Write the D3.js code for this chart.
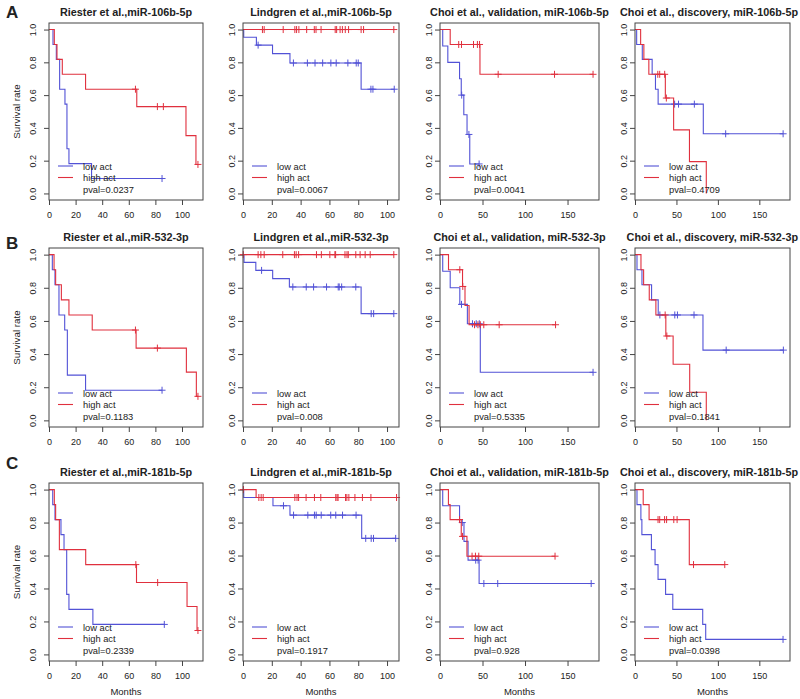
<!DOCTYPE html>
<html><head><meta charset="utf-8">
<script src="https://cdn.jsdelivr.net/npm/d3@7"></script>
<style>body{margin:0;background:#fff} text{font-family:"Liberation Sans",Arial,sans-serif;fill:#222}</style>
</head><body><svg id="c" width="800" height="699"></svg>
<script>
// ---------- DATA ----------
const titles = [
  "Riester et al.,miR-106b-5p","Lindgren et al.,miR-106b-5p","Choi et al., validation, miR-106b-5p","Choi et al., discovery, miR-106b-5p",
  "Riester et al.,miR-532-3p","Lindgren et al.,miR-532-3p","Choi et al., validation, miR-532-3p","Choi et al., discovery, miR-532-3p",
  "Riester et al.,miR-181b-5p","Lindgren et al.,miR-181b-5p","Choi et al., validation, miR-181b-5p","Choi et al., discovery, miR-181b-5p"];
const pvals = ["0.0237","0.0067","0.0041","0.4709","0.1183","0.008","0.5335","0.1841","0.2339","0.1917","0.928","0.0398"];
const rowLetters = ["A","B","C"];
const legendLabels = ["low act","high act"];
const yTicks = [0,0.2,0.4,0.6,0.8,1.0];
const xTicksShort = [0,20,40,60,80,100];
const xTicksLong = [0,50,100,150];

// Kaplan-Meier steps [time, survival] and censor times
const A1_low = [[0,1],[3,0.909],[5.5,0.818],[8,0.636],[12,0.545],[13.5,0.273],[15,0.182],[32,0.091]];
const A1_lowCens = [85];
const A1_high = [[0,1],[4,0.909],[6,0.818],[10,0.727],[27.5,0.636],[66,0.53],[103,0.353],[110.5,0.177]];
const A1_highCens = [65,81.5,86,112];

const A2_low = [[0,1],[0.5,0.953],[9.3,0.905],[20.5,0.853],[32.6,0.796],[82,0.636]];
const A2_lowCens = [10.5,35,44.7,50,55.3,61,64.7,72.8,78.6,80,88.8,90.2,105];
const A2_high = [[0,1]];
const A2_highCens = [13.5,14.7,27.9,36,37.2,38.8,44.2,49.5,50.7,54.2,64,65,67.4,69,71,73.3,82,83.7,104.7];

const A3_low = [[0,1],[3.2,0.9],[9.2,0.8],[23,0.7],[25,0.6],[28,0.48],[31.8,0.36],[35,0.18]];
const A3_lowCens = [25.5,34,46];
const A3_high = [[0,1],[12,0.909],[47,0.727]];
const A3_highCens = [22,25.3,39.4,44,46.5,68.4,134.7,180];

const A4_low = [[0,1],[2,0.909],[8.8,0.818],[20.7,0.727],[24.7,0.636],[27.9,0.545],[82.4,0.364]];
const A4_lowCens = [47.8,52.5,71.6,109.4,178.7];
const A4_high = [[0,1],[6.8,0.909],[10.7,0.818],[16.7,0.727],[36.6,0.582],[46.6,0.388],[65.7,0.194],[86,0]];
const A4_highCens = [27.5,29.8,35.8,37.8];

const B1_low = [[0,1],[2.5,0.909],[4.5,0.818],[7.5,0.636],[11.8,0.545],[13.8,0.273],[27.5,0.182]];
const B1_lowCens = [85];
const B1_high = [[0,1],[3.8,0.909],[5,0.818],[9.3,0.727],[15,0.636],[32.5,0.545],[65.5,0.436],[103.3,0.291],[110.8,0.145]];
const B1_highCens = [65,81.5,112];

const B2_low = [[0,1],[0.7,0.953],[8.9,0.905],[20.6,0.855],[32.2,0.805],[82,0.644]];
const B2_lowCens = [12.9,34.6,43.9,49,58,66.1,66.8,68.5,78.3,89,90.7,104.7];
const B2_high = [[0,1]];
const B2_highCens = [0.2,10.5,12.4,14.7,27.6,35.7,36.9,38.6,51,54.4,60.3,63.8,64.3,70.8,72.2,73.1,78.3,81.3,84.8,88.3,104.7];

const B3_low = [[0,1],[3.2,0.9],[12,0.8],[23.3,0.7],[32.2,0.583],[47.4,0.29]];
const B3_lowCens = [25.3,38.2,42.6,46.2,180];
const B3_high = [[0,1],[10,0.909],[26.5,0.808],[29.4,0.693],[34.2,0.577]];
const B3_highCens = [23.3,26.8,40.6,44.6,47.4,51.5,69.6,135.9];

const B4_low = [[0,1],[2.4,0.909],[8.4,0.818],[20,0.727],[28,0.636],[82,0.424]];
const B4_lowCens = [30,48,51.2,71.2,110,179];
const B4_high = [[0,1],[7.2,0.909],[10.4,0.818],[17.2,0.727],[25.2,0.636],[37.2,0.509],[46,0.339],[66,0.17],[86,0]];
const B4_highCens = [36.4,38.4];

const C1_low = [[0,1],[2.8,0.909],[4.5,0.818],[9,0.727],[11.3,0.636],[13.3,0.364],[15,0.273],[33,0.182]];
const C1_lowCens = [86.7];
const C1_high = [[0,1],[4,0.909],[5,0.818],[7.8,0.636],[27.6,0.545],[65.8,0.436],[103.8,0.291],[111.3,0.145]];
const C1_highCens = [65.3,81.7,112];

const C2_low = [[0,1],[0.5,0.952],[20.8,0.902],[32.6,0.845],[82.4,0.704]];
const C2_lowCens = [28.1,35.1,45,49.6,50.8,54.3,60.9,64.4,69.1,78.5,85.2,89,90.6,106];
const C2_high = [[0,1],[9.1,0.952]];
const C2_highCens = [0.3,11,12.6,14,36,37.5,38.6,43.8,49.6,54,64.4,65.3,66,71.2,72.1,73.5,77.7,82.9,88.8,106.6];

const C3_low = [[0,1],[3.2,0.902],[23,0.8],[28.2,0.686],[33,0.572],[46,0.43]];
const C3_lowCens = [26.2,42,44.8,51.6,67.9,177.8];
const C3_high = [[0,1],[9.9,0.909],[11.9,0.818],[25,0.716],[31.7,0.596]];
const C3_highCens = [23,26.5,37.7,41.7,45.6,135.3];

const C4_low = [[0,1],[2.4,0.909],[7.1,0.818],[8.3,0.727],[19.8,0.636],[24.2,0.545],[27.8,0.455],[36.9,0.364],[45.6,0.273],[81.7,0.182],[85.3,0.091]];
const C4_lowCens = [178.6];
const C4_high = [[0,1],[9.9,0.909],[17,0.818],[65.5,0.545]];
const C4_highCens = [27.8,29.8,35.7,38.1,46.8,50.8,70.6,108.3];

const lowCurves = [[A1_low,A1_lowCens],[A2_low,A2_lowCens],[A3_low,A3_lowCens],[A4_low,A4_lowCens],
  [B1_low,B1_lowCens],[B2_low,B2_lowCens],[B3_low,B3_lowCens],[B4_low,B4_lowCens],
  [C1_low,C1_lowCens],[C2_low,C2_lowCens],[C3_low,C3_lowCens],[C4_low,C4_lowCens]];
const highCurves = [[A1_high,A1_highCens],[A2_high,A2_highCens],[A3_high,A3_highCens],[A4_high,A4_highCens],
  [B1_high,B1_highCens],[B2_high,B2_highCens],[B3_high,B3_highCens],[B4_high,B4_highCens],
  [C1_high,C1_highCens],[C2_high,C2_highCens],[C3_high,C3_highCens],[C4_high,C4_highCens]];

// ---------- LAYOUT ----------
const cols = [
  {l:49, r:203, xmax:115.8, ticks:xTicksShort, lab:-13},
  {l:243,r:399, xmax:108.3, ticks:xTicksShort, lab:-8},
  {l:440,r:599, xmax:187,   ticks:xTicksLong,  lab:-8},
  {l:635,r:790, xmax:187,   ticks:xTicksLong,  lab:-8}];
const rows = [{t:23,b:200,ly:12},{t:248,b:427,ly:243},{t:483,b:661,ly:463}];
const colors = ["#5252d6","#e0303e"];
const tickFont = 9;

const svg = d3.select("#c");
svg.append("rect").attr("width",800).attr("height",699).attr("fill","#fff");

rows.forEach((row,ri)=>{
  svg.append("text").attr("x",6).attr("y",row.ly+6).attr("font-size",17).attr("font-weight","bold").text(rowLetters[ri]);
});

function stepVal(steps,t){ let v=steps[0][1]; for(const s of steps){ if(s[0]<=t) v=s[1]; } return v; }

for(let i=0;i<12;i++){
  const ri=Math.floor(i/4), ci=i%4, row=rows[ri], col=cols[ci];
  const x=d3.scaleLinear().domain([0,col.xmax]).range([col.l,col.r]);
  const y=d3.scaleLinear().domain([-0.04,1.04]).range([row.b,row.t]);
  const g=svg.append("g");

  // title (kept inside the picture)
  const tt=g.append("text").attr("x",(col.l+col.r)/2).attr("y",row.t-7).attr("text-anchor","middle")
    .attr("font-size",10.8).attr("font-weight","bold").text(titles[i]);
  const w=tt.node().getComputedTextLength();
  const cx=Math.min((col.l+col.r)/2, 798-w/2);
  tt.attr("x",cx);

  // axes
  const ya=g.append("g").attr("transform",`translate(${col.l},0)`)
    .call(d3.axisLeft(y).tickValues(yTicks).tickFormat(d3.format(".1f")).tickSize(5).tickSizeOuter(0));
  ya.selectAll("text").attr("transform","rotate(-90)").attr("x",0).attr("y",col.lab).attr("dy",0)
    .attr("text-anchor","middle").attr("font-size",tickFont).attr("font-family","Liberation Sans, Arial").style("fill","#222");
  const xa=g.append("g").attr("transform",`translate(0,${row.b})`)
    .call(d3.axisBottom(x).tickValues(col.ticks).tickSize(5).tickPadding(7).tickSizeOuter(0));
  xa.selectAll("text").attr("font-size",tickFont).attr("font-family","Liberation Sans, Arial").style("fill","#222");
  [ya,xa].forEach(a=>{a.select(".domain").remove(); a.selectAll("line").attr("stroke","#444");});

  // curves
  [lowCurves[i],highCurves[i]].forEach((cv,k)=>{
    const steps=cv[0], cens=cv[1];
    const last=steps[steps.length-1];
    const tEnd=Math.max(last[0], d3.max(cens)||0);
    const pts=steps.slice();
    if(last[1]>0 && tEnd>last[0]) pts.push([tEnd,last[1]]);
    const line=d3.line().x(d=>x(d[0])).y(d=>y(d[1])).curve(d3.curveStepAfter);
    g.append("path").attr("d",line(pts)).attr("fill","none").attr("stroke",colors[k]).attr("stroke-width",1.1);
    g.selectAll(null).data(cens).enter().append("path")
      .attr("d",t=>{const px=x(t),py=y(stepVal(steps,t));return `M${px-3.5},${py}H${px+3.5}M${px},${py-3.5}V${py+3.5}`;})
      .attr("stroke",colors[k]).attr("stroke-width",1).attr("fill","none");
  });

  // box
  g.append("rect").attr("x",col.l).attr("y",row.t).attr("width",col.r-col.l).attr("height",row.b-row.t)
    .attr("fill","none").attr("stroke","#444").attr("stroke-width",1);

  // legend
  legendLabels.forEach((lab,k)=>{
    const ly=row.b-34+k*11.5;
    g.append("line").attr("x1",col.l+9).attr("x2",col.l+24).attr("y1",ly).attr("y2",ly).attr("stroke",colors[k]).attr("stroke-width",1.1);
    g.append("text").attr("x",col.l+34).attr("y",ly+3.5).attr("font-size",9.3).text(lab);
  });
  g.append("text").attr("x",col.l+34).attr("y",row.b-11+3.5).attr("font-size",9.3).text("pval="+pvals[i]);

  if(ci===0){
    g.append("text").attr("transform",`translate(${col.l-29},${(row.t+row.b)/2}) rotate(-90)`)
      .attr("text-anchor","middle").attr("font-size",9.8).text("Survival rate");
  }
  if(ri===2){
    g.append("text").attr("x",(col.l+col.r)/2).attr("y",row.b+34).attr("text-anchor","middle")
      .attr("font-size",9.5).text("Months");
  }
}
</script></body></html>
